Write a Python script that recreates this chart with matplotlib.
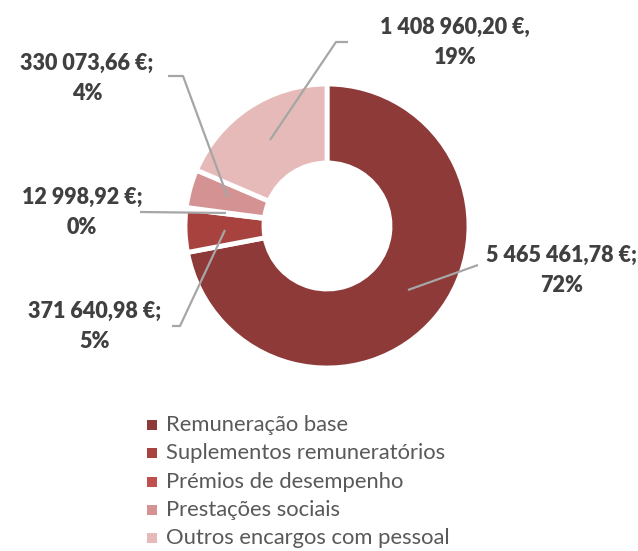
import matplotlib
matplotlib.use("Agg")
import matplotlib.pyplot as plt

categories = ["Remuneração base", "Suplementos remuneratórios", "Prémios de desempenho",
              "Prestações sociais", "Outros encargos com pessoal"]
values = [5465461.78, 371640.98, 12998.92, 330073.66, 1408960.20]
value_labels = ["5 465 461,78 €;", "371 640,98 €;", "12 998,92 €;", "330 073,66 €;", "1 408 960,20 €,"]
pct_labels = ["72%", "5%", "0%", "4%", "19%"]
colors = ["#8E3A39", "#A8423F", "#C0504D", "#D49392", "#E6BAB9"]

W, H = 638, 551
fig = plt.figure(figsize=(W / 100, H / 100), dpi=100)
ax = fig.add_axes([0, 0, 1, 1])

def Y(py):
    return H - py

cx, cy, R, r_in = 327, Y(226), 142, 63
ax.pie(values, colors=colors, startangle=90, counterclock=False, center=(cx, cy), radius=R,
       wedgeprops=dict(width=R - r_in, edgecolor="white", linewidth=3.5), frame=True)
ax.set_xlim(0, W)
ax.set_ylim(0, H)
ax.set_aspect("equal")
ax.axis("off")

# label placement (text centers, leader line paths) in pixel coordinates
label_pos = [(562, 255), (95, 311), (82, 197), (87, 63), (455, 27)]
leaders = [
    [(478, 265), (408, 290)],
    [(172, 326), (180, 326), (225, 230)],
    [(140, 212), (226, 213)],
    [(168, 76), (183, 76), (228, 198)],
    [(348, 42), (336, 42), (270, 140)],
]
lc = "#A6A6A6"
for (tx, ty), path, v, p in zip(label_pos, leaders, value_labels, pct_labels):
    xs = [q[0] for q in path]
    ys = [Y(q[1]) for q in path]
    ax.plot(xs, ys, color=lc, lw=1.6, solid_capstyle="butt")
    ax.text(tx, Y(ty), v, ha="center", va="center", fontsize=15.5, fontweight="heavy",
            color="#404040", family="Lato")
    ax.text(tx, Y(ty + 31), p, ha="center", va="center", fontsize=15.5, fontweight="heavy",
            color="#404040", family="Lato")

# legend
leg_y = [425, 453, 482, 510, 538]
for yy, c, name in zip(leg_y, colors, categories):
    ax.scatter([152], [Y(yy)], marker="s", s=60, color=c, linewidths=0)
    ax.text(166, Y(yy), name, ha="left", va="center", fontsize=15.8, color="#595959", family="Lato")

fig.savefig("out.png", dpi=100)
